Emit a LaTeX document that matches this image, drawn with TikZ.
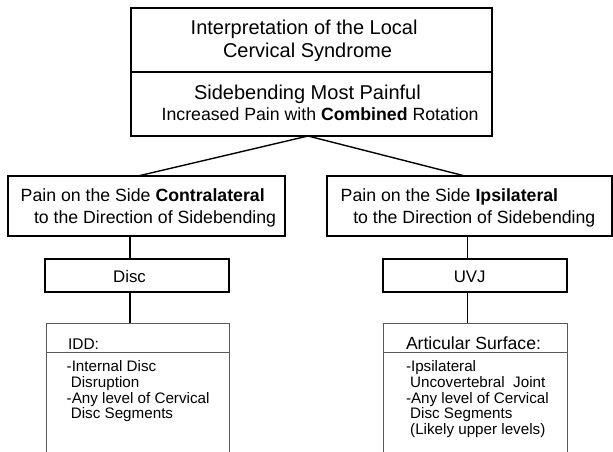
\documentclass[tikz,border=0pt]{standalone}
\usepackage{fontspec}
\setmainfont{Liberation Sans}
\begin{document}
\begin{tikzpicture}[x=1pt,y=-1pt,
  box/.style={draw=black, line width=1.3pt, rectangle, inner sep=0pt, outer sep=0pt, anchor=north west},
  openbox/.style={rectangle, inner sep=0pt, outer sep=0pt, anchor=north west},
  frame/.style={draw=black!65, line width=0.9pt},
  link/.style={line width=1.4pt, draw=black},
  txt/.style={anchor=base west, inner sep=0pt, outer sep=0pt, text=black},
  label/.style={anchor=base, inner sep=0pt, outer sep=0pt, text=black, font=\fontsize{16.8}{19}\selectfont},
  big/.style={font=\fontsize{20}{24}\selectfont},
  mid/.style={font=\fontsize{17.7}{21}\selectfont},
  small/.style={font=\fontsize{15.2}{18}\selectfont},
]
\useasboundingbox (0,0) rectangle (613,452);

% header: title and observation
\node[box, minimum width=361pt, minimum height=64pt] (title) at (131,8) {};
\node[box, minimum width=361pt, minimum height=64pt] (obs) at (131,72) {};
\node[txt, big] (t1) at (190.7,35) {Interpretation of the Local};
\node[txt, big] (t2) at (223,58) {Cervical Syndrome};
\node[txt, big] (t3) at (194,99.5) {Sidebending Most Painful};
\node[txt, mid] (t4) at (161.7,120.5) {Increased Pain with \textbf{Combined} Rotation};

% the two branches
\node[box, minimum width=277pt, minimum height=60pt] (lbox) at (8,176) {};
\node[box, minimum width=285pt, minimum height=60pt] (rbox) at (327,176) {};
\node[txt, mid] (l1) at (20.7,201.7) {Pain on the Side \textbf{Contralateral}};
\node[txt, mid] (l2) at (34,223.3) {to the Direction of Sidebending};
\node[txt, mid] (r1) at (340.7,201.7) {Pain on the Side \textbf{Ipsilateral}};
\node[txt, mid] (r2) at (353.3,223.3) {to the Direction of Sidebending};

% structures
\coordinate (lline) at (130,0);
\coordinate (rline) at (467.5,0);
\node[box, minimum width=184pt, minimum height=33pt] (disc) at (45,259) {};
\node[box, minimum width=184pt, minimum height=33pt] (uvj) at (383,259) {};
\node[label] (disct) at (129.5,282) {Disc};
\node[label] (uvjt) at (469.7,282) {UVJ};

% detail panels, open at the bottom
\node[openbox, minimum width=183pt, minimum height=129pt] (idd) at (46,323) {};
\node[openbox, minimum width=184pt, minimum height=129pt] (art) at (383,323) {};
\draw[frame] (idd.south west) |- (idd.north east) -- (idd.south east);
\draw[frame] (art.south west) |- (art.north east) -- (art.south east);
\coordinate (iddcut) at (0,352);
\draw[frame] (idd.west |- iddcut) -- (idd.east |- iddcut);
\draw[frame] (art.west |- iddcut) -- (art.east |- iddcut);

\node[txt, font=\fontsize{15.5}{18}\selectfont] (i0) at (68,349) {IDD:};
\node[txt, small] (i1) at (66.7,371.5) {-Internal Disc};
\node[txt, small] (i2) at (70.9,387) {Disruption};
\node[txt, small] (i3) at (66.7,403) {-Any level of Cervical};
\node[txt, small] (i4) at (70.9,418.5) {Disc Segments};

\node[txt, font=\fontsize{17.6}{18}\selectfont] (a0) at (406,349) {Articular Surface:};
\node[txt, small] (a1) at (406,371.5) {-Ipsilateral};
\node[txt, small] (a2) at (410.2,387) {Uncovertebral~~Joint};
\node[txt, small] (a3) at (406,403) {-Any level of Cervical};
\node[txt, small] (a4) at (410.2,418.5) {Disc Segments};
\node[txt, small] (a5) at (410.2,434) {(Likely upper levels)};

% connectors
\coordinate (apex) at (308,136);
\coordinate (lhit) at (138,176);
\coordinate (rhit) at (465,176);
\draw[link] (lhit) -- (apex) -- (rhit);
\draw[link] (lbox.south -| lline) -- (disc.north -| lline);
\draw[link] (disc.south -| lline) -- (idd.north -| lline);
\draw[link] (rbox.south -| rline) -- (uvj.north -| rline);
\draw[link] (uvj.south -| rline) -- (art.north -| rline);
\end{tikzpicture}
\end{document}
